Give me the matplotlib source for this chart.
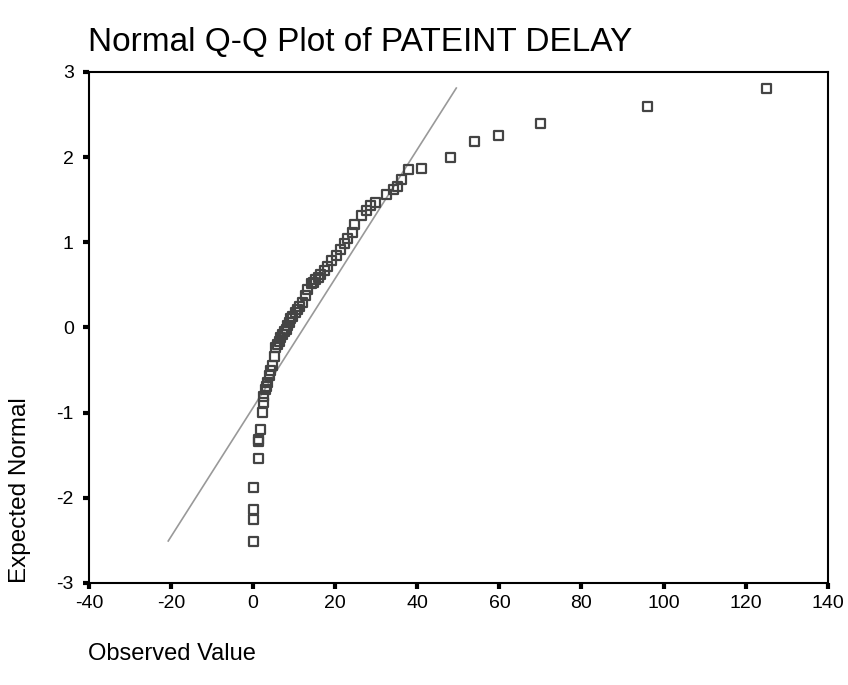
import numpy as np
import matplotlib.pyplot as plt

plt.rcParams['font.family'] = ['Liberation Sans', 'DejaVu Sans']
plt.rcParams['axes.unicode_minus'] = False

observed = [0.0, 0.2, 0.2, 0.2, 1.2, 1.2, 1.3, 1.7, 2.2, 2.4,
            2.6, 2.9, 3.2, 3.5, 3.9, 4.3, 4.7, 5.1, 5.5, 5.9,
            6.3, 6.7, 7.1, 7.6, 8.0, 8.4, 8.8, 9.2, 9.6, 10.2,
            10.8, 11.4, 12.0, 12.8, 13.3, 14.1, 14.7, 15.3, 15.9, 16.5,
            17.3, 18.1, 19.0, 20.2, 21.4, 22.2, 23.0, 24.1, 24.6, 26.3,
            27.5, 28.7, 29.9, 32.4, 34.2, 35.2, 36.2, 37.9, 41.0, 48.0,
            53.9, 59.8, 70.0, 96.1, 125.1]
expected = [-2.51, -2.25, -2.14, -1.88, -1.54, -1.34, -1.31, -1.20, -1.00, -0.88,
            -0.81, -0.73, -0.69, -0.65, -0.57, -0.51, -0.45, -0.34, -0.24, -0.20,
            -0.16, -0.12, -0.08, -0.05, -0.02, 0.02, 0.06, 0.10, 0.13, 0.17,
            0.21, 0.25, 0.29, 0.37, 0.45, 0.51, 0.53, 0.56, 0.59, 0.62,
            0.67, 0.72, 0.78, 0.84, 0.92, 0.98, 1.04, 1.11, 1.21, 1.31,
            1.37, 1.43, 1.47, 1.56, 1.62, 1.66, 1.74, 1.85, 1.87, 2.00,
            2.18, 2.25, 2.39, 2.59, 2.80]

# reference line: mean and sd of the sample, drawn between these x values
line_mean = 12.4
line_sd = 13.2
line_x = [-20.7, 49.5]

x_ticks = [-40, -20, 0, 20, 40, 60, 80, 100, 120, 140]
y_ticks = [-3, -2, -1, 0, 1, 2, 3]

fig = plt.figure(figsize=(8.48, 6.85), dpi=100)
ax = fig.add_axes([0.105, 0.149, 0.871, 0.746])

lx = np.array(line_x)
ax.plot(lx, (lx - line_mean) / line_sd, color='#999999', lw=1.2, zorder=1)
ax.scatter(observed, expected, marker='s', s=42, facecolors='none',
           edgecolors='#444444', linewidths=1.6, zorder=2)

ax.set_xlim(-40, 140)
ax.set_ylim(-3, 3)
ax.set_xticks(x_ticks)
ax.set_yticks(y_ticks)
ax.tick_params(direction='out', length=4, width=3, color='black',
               labelsize=14)
ax.tick_params(axis='x', pad=5)
ax.tick_params(axis='y', pad=7)
for s in ax.spines.values():
    s.set_linewidth(1.5)
    s.set_color('black')

fig.text(0.104, 0.926, 'Normal Q-Q Plot of PATEINT DELAY', fontsize=24,
         ha='left', va='baseline')
fig.text(0.104, 0.036, 'Observed Value', fontsize=17, ha='left', va='baseline')
fig.text(0.024, 0.149, 'Expected Normal', fontsize=17.5, rotation=90,
         ha='center', va='bottom')

fig.savefig('out.png', dpi=100)
